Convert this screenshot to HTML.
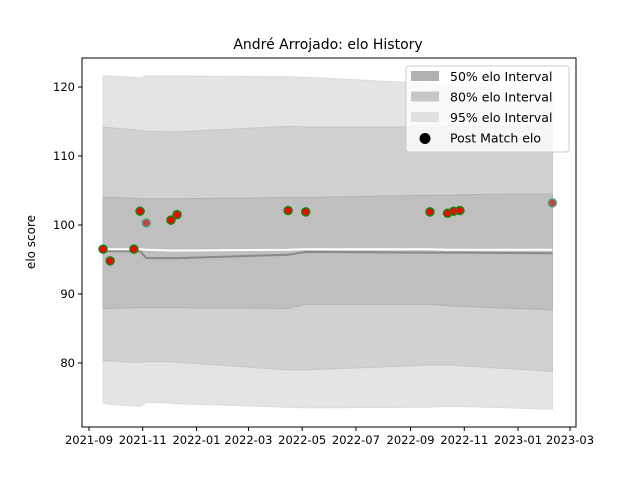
<!DOCTYPE html>
<html><head><meta charset="utf-8"><style>
body{margin:0;background:#fff;font-family:"DejaVu Sans","Liberation Sans",sans-serif}
svg text{font-family:"DejaVu Sans","Liberation Sans",sans-serif}
</style></head><body>
<svg id="chart" width="640" height="480" xmlns="http://www.w3.org/2000/svg">
<rect width="640" height="480" fill="#fff"/>
<g id="plot"></g>
<text x="328" y="49" font-size="14" text-anchor="middle">André Arrojado: elo History</text>
<text x="35" y="242" font-size="12" text-anchor="middle" transform="rotate(-90 35 242)">elo score</text>
</svg>
<script>
const bandDates=["2021-09-17","2021-09-25","2021-10-22","2021-10-29","2021-11-05","2021-12-03","2021-12-10","2022-04-15","2022-05-05","2022-09-23","2022-10-13","2022-10-20","2022-10-27","2023-02-09"];
const hi95=[121.6,121.6,121.4,121.3,121.6,121.6,121.6,121.5,121.4,120.5,120.3,120.2,120.1,119.5];
const lo95=[74.2,74.0,73.8,73.7,74.3,74.2,74.1,73.6,73.5,73.6,73.7,73.7,73.7,73.3];
const hi80=[114.2,114.1,113.8,113.7,113.6,113.5,113.5,114.3,114.2,114.2,114.2,114.2,114.2,114.3];
const lo80=[80.3,80.3,80.1,80.1,80.2,80.2,80.1,79.0,79.0,79.7,79.7,79.7,79.6,78.8];
const hi50=[104.0,104.0,103.9,103.8,103.8,103.8,103.8,104.0,104.0,104.3,104.3,104.3,104.4,104.5];
const lo50=[87.9,87.9,88.0,88.0,88.0,88.0,88.0,87.9,88.5,88.5,88.3,88.2,88.2,87.7];
const median=[96.2,96.2,96.2,96.2,95.2,95.2,95.2,95.7,96.1,96.0,96.0,96.0,96.0,95.9];
const expected=[96.5,96.5,96.5,96.5,96.4,96.3,96.3,96.4,96.5,96.5,96.4,96.4,96.4,96.4];
const matchDates=["2021-09-17","2021-09-25","2021-10-22","2021-10-29","2021-11-05","2021-12-03","2021-12-10","2022-04-15","2022-05-05","2022-09-23","2022-10-13","2022-10-20","2022-10-27","2023-02-09"];
const matchElo=[96.5,94.8,96.5,102.0,100.3,100.7,101.5,102.1,101.9,101.9,101.7,102.0,102.1,103.2];
const faded=[false,false,false,false,true,false,false,false,false,false,false,false,false,true];
const xTicks=["2021-09","2021-11","2022-01","2022-03","2022-05","2022-07","2022-09","2022-11","2023-01","2023-03"];
const yTicks=[80,90,100,110,120];

const NS="http://www.w3.org/2000/svg";
const L=82,R=576,T=58,B=427;
const d0=Date.UTC(2021,8,1),d1=Date.UTC(2023,2,1);
function X(s){const p=s.split("-");const t=Date.UTC(+p[0],+p[1]-1,p[2]?+p[2]:1);return 89+(t-d0)/(d1-d0)*(570-89);}
function Y(v){return 225-(v-100)*6.9;}
const g=document.getElementById("plot");
function mk(tag,attrs){const e=document.createElementNS(NS,tag);for(const k in attrs)e.setAttribute(k,attrs[k]);g.appendChild(e);return e;}
function band(hi,lo,fill,stroke,name){
  let d="";bandDates.forEach((s,i)=>{d+=(i?"L":"M")+X(s).toFixed(1)+","+Y(hi[i]).toFixed(1);});
  for(let i=bandDates.length-1;i>=0;i--)d+="L"+X(bandDates[i]).toFixed(1)+","+Y(lo[i]).toFixed(1);
  const p=mk("path",{d:d+"Z",fill:fill,stroke:stroke,"stroke-width":1});
  
  
}
band(hi95,lo95,"#e4e4e4","#dcdcdc","band-95");
band(hi80,lo80,"#d1d1d1","#c8c8c8","band-80");
band(hi50,lo50,"#bfbfbf","#b4b4b4","band-50");
function line(arr,color,w,name){
  const pts=bandDates.map((s,i)=>X(s).toFixed(1)+","+Y(arr[i]).toFixed(1)).join(" ");
  const p=mk("polyline",{points:pts,fill:"none",stroke:color,"stroke-width":w});
  
  
}
line(median,"#888",2,"median-line");
line(expected,"#fff",2,"expected-line");
matchDates.forEach((s,i)=>{
  const c=mk("circle",{cx:X(s),cy:Y(matchElo[i]),r:4,fill:faded[i]?"#cc3f3f":"#ff0000",stroke:faded[i]?"#4aa88a":"#118811","stroke-width":1.5});
  
  
});
// axes
const fr=mk("rect",{x:L,y:T,width:R-L,height:B-T,fill:"none",stroke:"#000","stroke-width":1});


xTicks.forEach(s=>{
  const x=X(s);
  mk("line",{x1:x,x2:x,y1:B,y2:B+4,stroke:"#000"});
  const t=mk("text",{x:x,y:B+17,"font-size":11.5,"text-anchor":"middle"});t.textContent=s;
  
  
});
yTicks.forEach(v=>{
  const y=Y(v);
  mk("line",{x1:L-4,x2:L,y1:y,y2:y,stroke:"#000"});
  const t=mk("text",{x:L-7,y:y+4,"font-size":11.5,"text-anchor":"end"});t.textContent=v;
  
  
});
// legend
const lg=mk("rect",{x:406,y:66,width:163,height:86,rx:3,fill:"#fff","fill-opacity":0.8,stroke:"#ccc"});


const entries=[["50% elo Interval","#b0b0b0"],["80% elo Interval","#c6c6c6"],["95% elo Interval","#e0e0e0"],["Post Match elo",null]];
entries.forEach((e,i)=>{
  const y=76+i*20.5;
  if(e[1]){const r=mk("rect",{x:411,y:y-5,width:28,height:10,fill:e[1]});}
  else{const c=mk("circle",{cx:425,cy:y+1,r:5.5,fill:"#000"});}
  const t=mk("text",{x:450,y:y+5,"font-size":12.5});t.textContent=e[0];
  
  
});
</script>
</body></html>
